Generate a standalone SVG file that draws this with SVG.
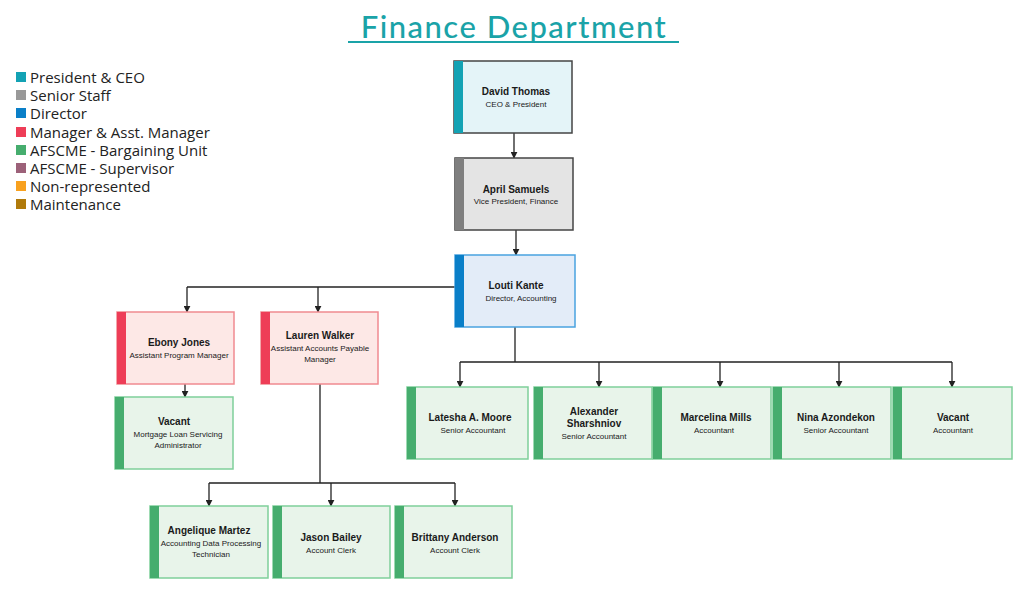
<svg xmlns="http://www.w3.org/2000/svg" width="1024" height="596" viewBox="0 0 1024 596">
<defs>
<marker id="ar" viewBox="0 0 10 10" refX="9" refY="5" markerWidth="7" markerHeight="7" orient="auto" markerUnits="userSpaceOnUse"><path d="M0,0 L10,5 L0,10 z" fill="#222"/></marker>
</defs>
<style>
text{font-family:"Liberation Sans",Arial,sans-serif;fill:#1a1a1a}
.n{font-size:10px;font-weight:bold;text-anchor:middle}
.t{font-size:8px;text-anchor:middle}
.lg{font-size:15px;font-family:"Open Sans",sans-serif;fill:#222}
.c{fill:none;stroke:#222;stroke-width:1.3}
.ca{fill:none;stroke:#222;stroke-width:1.3;marker-end:url(#ar)}
.g rect.b{fill:#e8f4ea;stroke:#7fcf9a;stroke-width:1.5}
.g rect.a{fill:#46ad6e}
.r rect.b{fill:#fde8e6;stroke:#f08a90;stroke-width:1.5}
.r rect.a{fill:#ee3d57}
</style>
<rect width="1024" height="596" fill="#fff"/>
<text x="514" y="38" text-anchor="middle" style="font-family:Lato,sans-serif;font-size:31px;fill:#1aa3a8;letter-spacing:1.5px;font-weight:500">Finance Department</text>
<rect x="348" y="41" width="331" height="2" fill="#1aa3a8"/>
<g id="legend">
<rect x="16" y="72" width="10" height="10" fill="#13a2b4"/><text class="lg" x="30" y="83">President &amp; CEO</text>
<rect x="16" y="90" width="10" height="10" fill="#999"/><text class="lg" x="30" y="101">Senior Staff</text>
<rect x="16" y="108" width="10" height="10" fill="#0a7fc8"/><text class="lg" x="30" y="119">Director</text>
<rect x="16" y="127" width="10" height="10" fill="#ee3d57"/><text class="lg" x="30" y="138">Manager &amp; Asst. Manager</text>
<rect x="16" y="145" width="10" height="10" fill="#46ad6e"/><text class="lg" x="30" y="156">AFSCME - Bargaining Unit</text>
<rect x="16" y="163" width="10" height="10" fill="#9c6179"/><text class="lg" x="30" y="174">AFSCME - Supervisor</text>
<rect x="16" y="181" width="10" height="10" fill="#f8a11f"/><text class="lg" x="30" y="192">Non-represented</text>
<rect x="16" y="199" width="10" height="10" fill="#b07a0b"/><text class="lg" x="30" y="210">Maintenance</text>
</g>
<g id="connectors">
<path class="ca" d="M514,133 V158"/>
<path class="ca" d="M516,230 V255"/>
<path class="c" d="M455,287 H187"/>
<path class="ca" d="M187,287 V312"/>
<path class="ca" d="M318,287 V312"/>
<path class="ca" d="M185,384 V397"/>
<path class="c" d="M515,327 V362 M460,362 H952"/>
<path class="ca" d="M460,362 V387"/>
<path class="ca" d="M599,362 V387"/>
<path class="ca" d="M720,362 V387"/>
<path class="ca" d="M839,362 V387"/>
<path class="ca" d="M952,362 V387"/>
<path class="c" d="M320,384 V483 M209,483 H455"/>
<path class="ca" d="M209,483 V506"/>
<path class="ca" d="M331,483 V506"/>
<path class="ca" d="M455,483 V506"/>
</g>
<g id="david"><rect x="454" y="61" width="118" height="72" fill="#e4f4f8" stroke="#444" stroke-width="1.5"/><rect x="454" y="61" width="9" height="72" fill="#13a2b4"/><text class="n" x="516" y="95">David Thomas</text><text class="t" x="516" y="107">CEO &amp; President</text></g>
<g id="april"><rect x="455" y="158" width="118" height="72" fill="#e4e4e4" stroke="#444" stroke-width="1.5"/><rect x="455" y="158" width="9" height="72" fill="#7f7f7f"/><text class="n" x="516" y="193">April Samuels</text><text class="t" x="516" y="204">Vice President, Finance</text></g>
<g id="louti"><rect x="455" y="255" width="120" height="72" fill="#e3ecf8" stroke="#4aa3e0" stroke-width="1.5"/><rect x="455" y="255" width="9" height="72" fill="#0a7fc8"/><text class="n" x="516" y="289">Louti Kante</text><text class="t" x="521" y="301">Director, Accounting</text></g>
<g id="ebony" class="r"><rect class="b" x="117" y="312" width="117" height="72"/><rect class="a" x="117" y="312" width="9" height="72"/><text class="n" x="179" y="346">Ebony Jones</text><text class="t" x="179" y="358">Assistant Program Manager</text></g>
<g id="lauren" class="r"><rect class="b" x="261" y="312" width="117" height="72"/><rect class="a" x="261" y="312" width="9" height="72"/><text class="n" x="320" y="339">Lauren Walker</text><text class="t" x="320" y="351">Assistant Accounts Payable</text><text class="t" x="320" y="362">Manager</text></g>
<g id="vacant1" class="g"><rect class="b" x="115" y="397" width="118" height="72"/><rect class="a" x="115" y="397" width="9" height="72"/><text class="n" x="174" y="425">Vacant</text><text class="t" x="178" y="437">Mortgage Loan Servicing</text><text class="t" x="178" y="448">Administrator</text></g>
<g id="latesha" class="g"><rect class="b" x="407" y="387" width="121" height="72"/><rect class="a" x="407" y="387" width="9" height="72"/><text class="n" x="470" y="421">Latesha A. Moore</text><text class="t" x="473" y="433">Senior Accountant</text></g>
<g id="alexander" class="g"><rect class="b" x="534" y="387" width="118" height="72"/><rect class="a" x="534" y="387" width="9" height="72"/><text class="n" x="594" y="415">Alexander</text><text class="n" x="594" y="427">Sharshniov</text><text class="t" x="594" y="439">Senior Accountant</text></g>
<g id="marcelina" class="g"><rect class="b" x="653" y="387" width="118" height="72"/><rect class="a" x="653" y="387" width="9" height="72"/><text class="n" x="716" y="421">Marcelina Mills</text><text class="t" x="714" y="433">Accountant</text></g>
<g id="nina" class="g"><rect class="b" x="773" y="387" width="118" height="72"/><rect class="a" x="773" y="387" width="9" height="72"/><text class="n" x="836" y="421">Nina Azondekon</text><text class="t" x="836" y="433">Senior Accountant</text></g>
<g id="vacant2" class="g"><rect class="b" x="893" y="387" width="119" height="72"/><rect class="a" x="893" y="387" width="9" height="72"/><text class="n" x="953" y="421">Vacant</text><text class="t" x="953" y="433">Accountant</text></g>
<g id="angelique" class="g"><rect class="b" x="150" y="506" width="118" height="72"/><rect class="a" x="150" y="506" width="9" height="72"/><text class="n" x="209" y="534">Angelique Martez</text><text class="t" x="211" y="546">Accounting Data Processing</text><text class="t" x="211" y="557">Technician</text></g>
<g id="jason" class="g"><rect class="b" x="273" y="506" width="117" height="72"/><rect class="a" x="273" y="506" width="9" height="72"/><text class="n" x="331" y="541">Jason Bailey</text><text class="t" x="331" y="553">Account Clerk</text></g>
<g id="brittany" class="g"><rect class="b" x="395" y="506" width="117" height="72"/><rect class="a" x="395" y="506" width="9" height="72"/><text class="n" x="455" y="541">Brittany Anderson</text><text class="t" x="455" y="553">Account Clerk</text></g>
</svg>
